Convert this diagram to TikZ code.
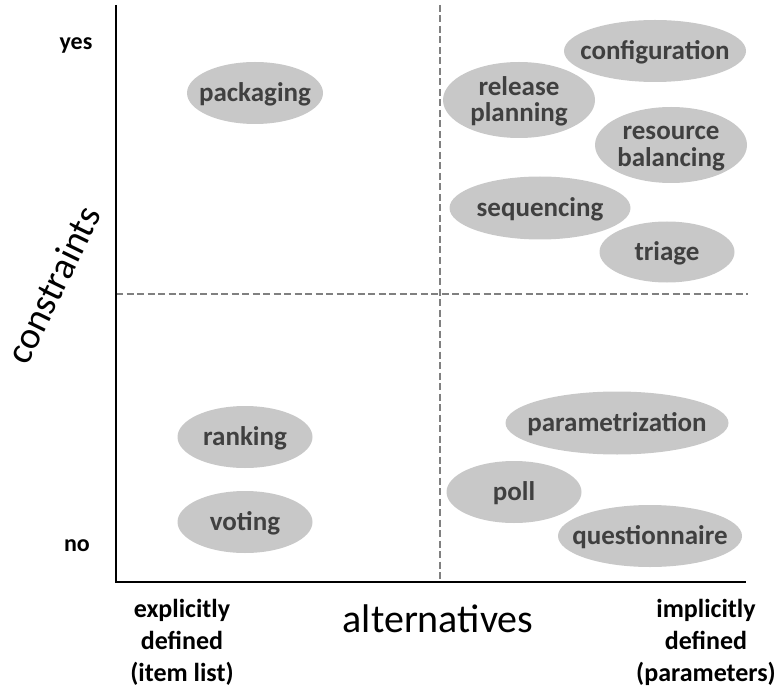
\documentclass[tikz,border=0pt]{standalone}
\usepackage{fontspec}
\setmainfont{Carlito}
\usepackage{tikz}
\usetikzlibrary{shapes.geometric, positioning}

\definecolor{blobgray}{RGB}{200,200,200}
\definecolor{blobtext}{RGB}{64,64,64}

% text that does not stretch its ellipse
\newcommand{\blobtext}[1]{\makebox[0pt]{\raisebox{-3pt}[\height][\depth]{\begin{tabular}{@{}c@{}}#1\end{tabular}}}}

\begin{document}
\begin{tikzpicture}[x=1pt, y=-1pt,
        task/.style={draw=none, ellipse, fill=blobgray, inner sep=0pt, text=blobtext, font=\fontsize{27}{26}\selectfont\bfseries},
        level/.style={font=\fontsize{24}{26}\selectfont\bfseries},
        corner/.style={font=\fontsize{26}{32}\selectfont\bfseries, align=center},
        axislabel/.style={font=\fontsize{40}{44}\selectfont},
        axis/.style={line width=2.2pt},
        divider/.style={line width=1.6pt, dashed, dash pattern=on 7pt off 3.5pt, gray}
    ]
        \useasboundingbox (0,0) rectangle (775,692);

        
        \coordinate (top) at (116,5);
        \coordinate (origin) at (116,582);
        \coordinate (right) at (746,582);
        \coordinate (midtop) at (440,5);
        \coordinate (midbot) at (440,582);
        \coordinate (midleft) at (116,294);
        \coordinate (midright) at (748,294);

        \draw[divider] (midtop) -- (midbot);
        \draw[divider] (midleft) -- (midright);
        \draw[axis] (top) -- (origin) -- (right);

        
        \node[level] (yes) at (76,45) {yes};
        \node[level] (no) at (77,546) {no};
        \node[axislabel, font=\fontsize{38}{40}\selectfont, rotate=64] (constraints) at (53,285) {constraints};
        \node[axislabel] (alternatives) at (438,619) {alternatives};
        \node[corner] (explicit) at (182,642) {explicitly\\defined\\(item list)};
        \node[corner] (implicit) at (706,642) {implicitly\\defined\\(parameters)};

        
        \node[task, minimum width=136, minimum height=62] (packaging) at (255,93) {\blobtext{packaging}};
        \node[task, minimum width=182, minimum height=62] (configuration) at (655,51) {\blobtext{configuration}};
        \node[task, minimum width=152, minimum height=76] (release) at (519,100) {\blobtext{release\\planning}};
        \node[task, minimum width=152, minimum height=76] (resource) at (671,145) {\blobtext{resource\\balancing}};
        \node[task, minimum width=181, minimum height=63] (sequencing) at (540,208) {\blobtext{sequencing}};
        \node[task, minimum width=135, minimum height=61] (triage) at (667,252) {\blobtext{triage}};

        
        \node[task, minimum width=135, minimum height=62] (ranking) at (245,437) {\blobtext{ranking}};
        \node[task, minimum width=135, minimum height=62] (voting) at (245,522) {\blobtext{voting}};
        \node[task, minimum width=223, minimum height=63] (parametrization) at (617,423) {\blobtext{parametrization}};
        \node[task, minimum width=135, minimum height=62] (poll) at (514,492) {\blobtext{poll}};
        \node[task, minimum width=184, minimum height=62] (questionnaire) at (650,536) {\blobtext{questionnaire}};

    \end{tikzpicture}
\end{document}
